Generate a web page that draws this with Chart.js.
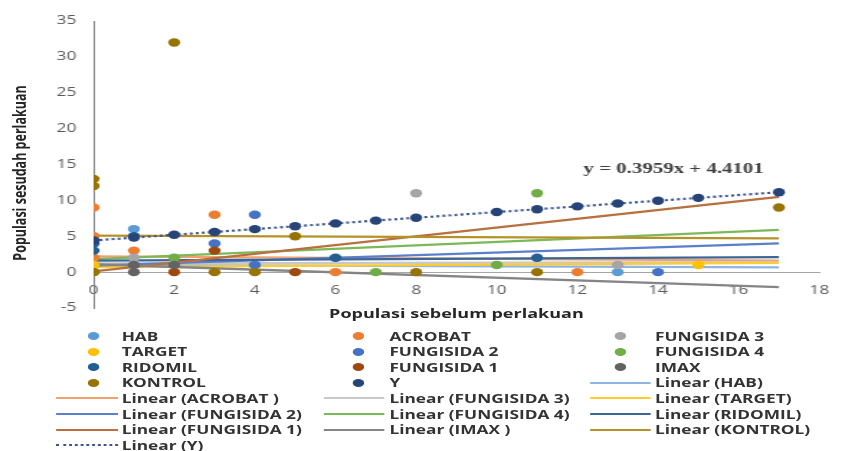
<!DOCTYPE html>
<html>
<head>
<meta charset="utf-8">
<script src="https://cdn.jsdelivr.net/npm/chart.js@4.4.0/dist/chart.umd.min.js"></script>
<style>
  html, body { margin: 0; padding: 0; background: #ffffff; width: 845px; height: 451px; overflow: hidden; }
  #stage { position: absolute; left: 0; top: 0; width: 587px; height: 451px; transform: scaleX(1.4395); transform-origin: 0 0; }
  #chartBox { position: absolute; left: 0; top: 0; width: 587px; height: 330px; }
  #legend { position: absolute; left: 0; top: 0; width: 587px; height: 451px; pointer-events: none;
            font-family: "Open Sans", Lato, sans-serif; font-weight: 700; font-size: 12px; color: #333333; }
  .item { position: absolute; height: 15px; line-height: 15px; white-space: pre; }
  .dot { position: absolute; width: 8px; height: 8px; border-radius: 50%; }
  .ln { position: absolute; height: 0; }
  .axtitle { position: absolute; white-space: nowrap; font-family: "Open Sans", Lato, sans-serif; font-weight: 700;
             font-size: 12.5px; line-height: 16px; color: #262626; transform: translate(-50%, -50%); }
  #ytitle { transform: translate(-50%, -50%) rotate(-90deg); }
</style>
</head>
<body>
<div id="stage">
  <div id="chartBox"><canvas id="c"></canvas></div>
  <div id="legend"></div>
  <div id="xtitle" class="axtitle"></div>
  <div id="ytitle" class="axtitle"></div>
</div>
<script>
// ---------------- DATA ----------------
const seriesNames = ['HAB', 'ACROBAT ', 'FUNGISIDA 3', 'TARGET', 'FUNGISIDA 2', 'FUNGISIDA 4',
                     'RIDOMIL', 'FUNGISIDA 1', 'IMAX ', 'KONTROL', 'Y'];

const HAB_X = [0, 1, 13];
const HAB_Y = [1, 6, 0];
const ACROBAT_X = [0, 0, 0, 1, 3, 6, 12];
const ACROBAT_Y = [9, 5, 2, 3, 8, 0, 0];
const FUNGISIDA3_X = [1, 8, 13];
const FUNGISIDA3_Y = [2, 11, 1];
const TARGET_X = [0, 15];
const TARGET_Y = [1, 1];
const FUNGISIDA2_X = [3, 4, 4, 14];
const FUNGISIDA2_Y = [4, 8, 1, 0];
const FUNGISIDA4_X = [2, 7, 10, 11];
const FUNGISIDA4_Y = [2, 0, 1, 11];
const RIDOMIL_X = [0, 0, 1, 6, 11];
const RIDOMIL_Y = [4, 3, 5, 2, 2];
const FUNGISIDA1_X = [0, 2, 3, 5];
const FUNGISIDA1_Y = [0, 0, 3, 0];
const IMAX_X = [1, 1, 2];
const IMAX_Y = [1, 0, 1];
const KONTROL_X = [0, 0, 0, 2, 3, 4, 5, 8, 11, 17];
const KONTROL_Y = [13, 12, 0, 32, 0, 0, 5, 0, 0, 9];
const Y_X = [0, 1, 2, 3, 4, 5, 6, 7, 8, 10, 11, 12, 13, 14, 15, 17];
const Y_Y = [4.41, 4.81, 5.20, 5.60, 5.99, 6.39, 6.79, 7.18, 7.58, 8.37, 8.77, 9.16, 9.56, 9.95, 10.35, 11.14];

// linear trendlines: value at x = 0 and at x = 17
const trendX = [0, 17];
const trendStart = [1.0, 2.2, 1.2, 0.7, 0.9, 1.8, 1.6, 0.1, 1.1, 5.1, 4.41];
const trendEnd   = [0.65, 1.6, 1.4, 1.3, 4.0, 5.9, 2.1, 10.5, -2.1, 4.7, 11.14];

const xTicks = [0, 2, 4, 6, 8, 10, 12, 14, 16, 18];
const yTicks = [-5, 0, 5, 10, 15, 20, 25, 30, 35];

const xTitle = 'Populasi sebelum perlakuan';
const yTitle = 'Populasi sesudah perlakuan';
const eqText = 'y = 0.3959x + 4.4101';
const eqAt = [12.15, 14.3];

// ---------------- STYLE ----------------
const pointColors = ['#5B9BD5', '#ED7D31', '#A5A5A5', '#FFC000', '#4472C4', '#70AD47',
                     '#255E91', '#9E480E', '#636363', '#997300', '#264478'];
const trendColors = ['#8DB4E2', '#F2A06E', '#C8C8C8', '#FFCC33', '#5B7FCC', '#7DB857',
                     '#3A6796', '#B8703F', '#858585', '#B59228', '#3B5590'];

const seriesX = [HAB_X, ACROBAT_X, FUNGISIDA3_X, TARGET_X, FUNGISIDA2_X, FUNGISIDA4_X,
                 RIDOMIL_X, FUNGISIDA1_X, IMAX_X, KONTROL_X, Y_X];
const seriesY = [HAB_Y, ACROBAT_Y, FUNGISIDA3_Y, TARGET_Y, FUNGISIDA2_Y, FUNGISIDA4_Y,
                 RIDOMIL_Y, FUNGISIDA1_Y, IMAX_Y, KONTROL_Y, Y_Y];

const datasets = [];
seriesNames.forEach((name, i) => {
  datasets.push({
    label: name,
    data: seriesX[i].map((x, k) => ({ x: x, y: seriesY[i][k] })),
    backgroundColor: pointColors[i],
    borderColor: pointColors[i],
    borderWidth: 0,
    pointRadius: 4.2,
    pointHoverRadius: 4.2,
    order: 20 - i
  });
});
seriesNames.forEach((name, i) => {
  const isY = (name === 'Y');
  datasets.push({
    label: 'Linear (' + name + ')',
    data: trendX.map((x, k) => ({ x: x, y: k === 0 ? trendStart[i] : trendEnd[i] })),
    showLine: true,
    borderColor: trendColors[i],
    backgroundColor: trendColors[i],
    borderWidth: isY ? 2.2 : 2.3,
    borderDash: isY ? [2, 2.2] : [],
    pointRadius: 0,
    pointHoverRadius: 0,
    fill: false,
    order: 60 - i
  });
});

const eqPlugin = {
  id: 'eqLabel',
  afterDatasetsDraw(chart) {
    const { ctx, scales } = chart;
    ctx.save();
    ctx.font = 'bold 14.5px "Liberation Serif", "DejaVu Serif", serif';
    ctx.fillStyle = '#404040';
    ctx.textAlign = 'left';
    ctx.textBaseline = 'middle';
    ctx.fillText(eqText, scales.x.getPixelForValue(eqAt[0]), scales.y.getPixelForValue(eqAt[1]));
    ctx.restore();
  }
};

// position the HTML axis titles from the chart's own scales once it is laid out
const titlePlugin = {
  id: 'axisTitles',
  afterRender(chart) {
    const a = chart.chartArea;
    const xt = document.getElementById('xtitle');
    xt.textContent = xTitle;
    xt.style.left = ((a.left + a.right) / 2) + 'px';
    xt.style.top = (a.bottom + 6) + 'px';
    const yt = document.getElementById('ytitle');
    yt.textContent = yTitle;
    yt.style.left = '13.5px';
    yt.style.top = ((a.top + a.bottom) / 2 + 8) + 'px';
  }
};

new Chart(document.getElementById('c'), {
  type: 'scatter',
  data: { datasets: datasets },
  plugins: [eqPlugin, titlePlugin],
  options: {
    responsive: true,
    maintainAspectRatio: false,
    animation: false,
    layout: { padding: { top: 21, bottom: 22, left: 0, right: 9 } },
    plugins: { legend: { display: false }, tooltip: { enabled: false } },
    scales: {
      x: {
        type: 'linear',
        position: { y: 0 },
        min: xTicks[0], max: xTicks[xTicks.length - 1],
        afterBuildTicks: (s) => { s.ticks = xTicks.map(v => ({ value: v })); },
        grid: { display: false, drawTicks: false, tickLength: 0 },
        border: { display: true, color: '#a6a6a6', width: 1 },
        ticks: { padding: 11, color: '#595959', font: { family: 'Open Sans', size: 12 } }
      },
      y: {
        type: 'linear',
        position: 'left',
        min: yTicks[0], max: yTicks[yTicks.length - 1],
        afterBuildTicks: (s) => { s.ticks = yTicks.map(v => ({ value: v })); },
        afterFit: (s) => { s.width = 65; },
        grid: { display: false, drawTicks: false, tickLength: 0 },
        border: { display: true, color: '#7f7f7f', width: 1 },
        ticks: { padding: 12, color: '#595959', font: { family: 'Open Sans', size: 12 } }
      }
    }
  }
});

// ---------------- HTML LEGEND (3 columns) ----------------
const colText = [84.5, 270.5, 455];
const colMarker = [64.5, 248.5, 430.5];
const colLineL = [39, 225, 410];
const colLineR = [81.5, 267, 451.5];
const rowTop = 336, rowStep = 15.6;
const legend = document.getElementById('legend');
const items = [];
seriesNames.forEach((n, i) => items.push({ text: n, kind: 'dot', color: pointColors[i] }));
seriesNames.forEach((n, i) => items.push({ text: 'Linear (' + n + ')', kind: n === 'Y' ? 'dotted' : 'line', color: trendColors[i] }));
items.forEach((it, i) => {
  const r = Math.floor(i / 3), c = i % 3;
  const cy = rowTop + r * rowStep;
  if (it.kind === 'dot') {
    const d = document.createElement('div');
    d.className = 'dot';
    d.style.left = (colMarker[c] - 4) + 'px';
    d.style.top = (cy - 4) + 'px';
    d.style.background = it.color;
    legend.appendChild(d);
  } else {
    const l = document.createElement('div');
    l.className = 'ln';
    l.style.left = colLineL[c] + 'px';
    l.style.width = (colLineR[c] - colLineL[c]) + 'px';
    l.style.top = (cy - 1) + 'px';
    l.style.borderTop = '2px ' + (it.kind === 'dotted' ? 'dotted ' : 'solid ') + it.color;
    legend.appendChild(l);
  }
  const t = document.createElement('div');
  t.className = 'item';
  t.style.left = colText[c] + 'px';
  t.style.top = (cy - 7.5) + 'px';
  t.textContent = it.text;
  legend.appendChild(t);
});
</script>
</body>
</html>
